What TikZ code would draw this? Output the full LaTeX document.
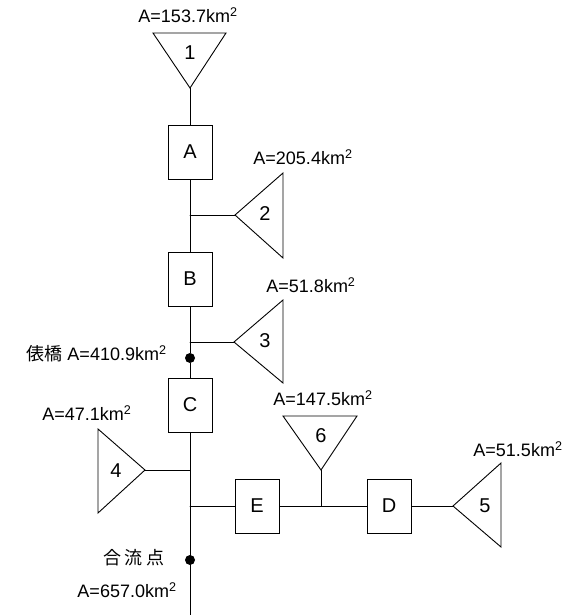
\documentclass[tikz,border=0pt]{standalone}
\usepackage{fontspec}
\setmainfont{Liberation Sans}
\newfontfamily\jpfont{Noto Sans CJK JP}
\usepackage{tikz}
\usetikzlibrary{positioning}

\newcommand{\sqkm}{km\textsuperscript{2}}

\begin{document}
\begin{tikzpicture}[x=1pt, y=-1pt, line width=0.9pt, line cap=round,
    dam/.style={draw, minimum width=44pt, minimum height=54pt, inner sep=0pt,
                font=\fontsize{20}{22}\selectfont},
    num/.style={font=\fontsize{20}{22}\selectfont},
    area/.style={font=\fontsize{18}{20}\selectfont, inner sep=0pt},
    dot/.style={circle, fill, inner sep=0pt, minimum size=10pt}]
  \useasboundingbox (0,0) rectangle (579,615);

  % sub-basins (triangles), apex points at the river
  \draw (153,33) -- (226,33) -- (190,88) -- cycle;
  \coordinate (t1) at (190,88);
  \node[num] (n1) at (190,53) {1};
  \draw (283,173) -- (283,258) -- (235,215) -- cycle;
  \coordinate (t2) at (235,215);
  \node[num] (n2) at (265,214) {2};
  \draw (283,300) -- (283,383) -- (234,342) -- cycle;
  \coordinate (t3) at (234,342);
  \node[num] (n3) at (265,341) {3};
  \draw (98,429) -- (98,513) -- (145,470) -- cycle;
  \coordinate (t4) at (145,470);
  \node[num] (n4) at (116,471) {4};
  \draw (501,463) -- (501,547) -- (453,506) -- cycle;
  \coordinate (t5) at (453,506);
  \node[num] (n5) at (485,506) {5};
  \draw (283,416) -- (357,416) -- (321,470) -- cycle;
  \coordinate (t6) at (321,470);
  \node[num] (n6) at (321,436) {6};

  % dams
  \node[dam] (A) at (190,152) {A};
  \node[dam] (B) at (190,279) {B};
  \node[dam] (C) at (190,405) {C};
  \node[dam] (E) at (257,506) {E};
  \node[dam] (D) at (389,506) {D};

  % gauging points
  \node[dot] (tawara) at (190,358) {};
  \node[dot] (goryu) at (190,560) {};
  \coordinate (outlet) at (190,615);

  % junctions on the river
  \coordinate (j2) at (190,215);
  \coordinate (j3) at (190,342);
  \coordinate (j4) at (190,470);
  \coordinate (jE) at (190,506);
  \coordinate (j6) at (321,506);

  % river network
  \draw (t1) -- (A);
  \draw (A) -- (B);
  \draw (B) -- (tawara) -- (C);
  \draw (C) -- (outlet);
  \draw (j2) -- (t2);
  \draw (j3) -- (t3);
  \draw (j4) -- (t4);
  \draw (jE) -- (E);
  \draw (E) -- (D);
  \draw (j6) -- (t6);
  \draw (D) -- (t5);

  % catchment areas
  \node[area] (a1) at (188,15) {A=153.7\sqkm};
  \node[area, anchor=west] (a2) at (253,157) {A=205.4\sqkm};
  \node[area, anchor=west] (a3) at (266,285) {A=51.8\sqkm};
  \node[area, anchor=west] (a4) at (42,413) {A=47.1\sqkm};
  \node[area, anchor=west] (a5) at (473,449) {A=51.5\sqkm};
  \node[area] (a6) at (323,398) {A=147.5\sqkm};
  \node[area, anchor=east] (a-tawara) at (167,354) {{\jpfont 俵橋} A=410.9\sqkm};
  \node[area] (l-goryu) at (134,558) {\jpfont 合\hspace{4pt}流\hspace{4pt}点};
  \node[area, anchor=east] (a-goryu) at (177,590) {A=657.0\sqkm};
\end{tikzpicture}
\end{document}
